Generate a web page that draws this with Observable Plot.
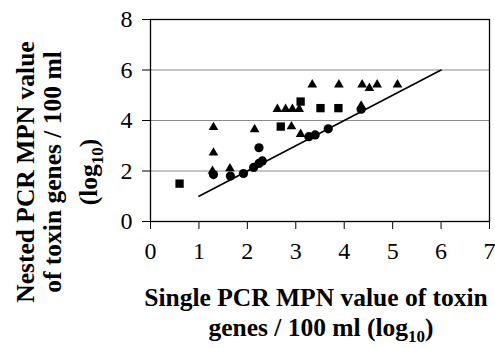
<!DOCTYPE html>
<html><head><meta charset="utf-8">
<script src="https://cdn.jsdelivr.net/npm/d3@7"></script>
<script src="https://cdn.jsdelivr.net/npm/@observablehq/plot@0.6"></script>
<style>body{margin:0;background:#fff} svg{display:block}</style>
</head><body><div id="chart"></div>
<script>
const xTicks = [0,1,2,3,4,5,6,7];
const yTicks = [0,2,4,6,8];
const gridValues = [2,4,6];

const circleX = [1.30,1.65,1.92,2.13,2.24,2.31,2.24,3.27,3.40,3.67,4.35];
const circleY = [1.86,1.80,1.90,2.14,2.30,2.40,2.92,3.36,3.43,3.67,4.45];

const triangleX = [1.30,1.30,1.28,1.64,2.15,2.62,2.79,2.93,3.07,2.91,3.34,3.89,4.37,4.52,4.68,5.10,3.10,4.35];
const triangleY = [3.73,2.72,2.00,2.10,3.65,4.45,4.45,4.45,4.45,3.76,5.42,5.42,5.42,5.28,5.42,5.42,3.46,4.58];

const squareX = [0.60,2.69,3.10,3.51,3.88];
const squareY = [1.50,3.76,4.75,4.49,4.49];

const fitX = [1,6];
const fitY = [1,6];

const xTitle = ["Single PCR MPN value of toxin", "genes / 100 ml (log"];
const yTitle = ["Nested PCR MPN value", "of toxin genes / 100 ml", "(log"];
const subscript = "10";

const toRows = (xs, ys) => xs.map((x, i) => ({x, y: ys[i]}));
const circles = toRows(circleX, circleY);
const triangles = toRows(triangleX, triangleY);
const squares = toRows(squareX, squareY);
const fit = toRows(fitX, fitY);

const plot = Plot.plot({
  width: 495, height: 348,
  marginLeft: 150, marginRight: 6, marginTop: 19, marginBottom: 127,
  style: {fontFamily: "Liberation Serif", fontSize: "24px", color: "#000", background: "#fff"},
  x: {domain: [0, 7]},
  y: {domain: [0, 8]},
  marks: [
    Plot.gridY(gridValues, {stroke: "#8a8a8a", strokeOpacity: 1, strokeWidth: 1.2}),
    Plot.frame({stroke: "#000", strokeWidth: 1.3}),
    Plot.axisX(xTicks, {tickSize: 8, tickPadding: 12, fontSize: 24, label: null, tickFormat: d => d}),
    Plot.axisY(yTicks, {tickSize: 8, tickPadding: 10, fontSize: 24, label: null, tickFormat: d => d}),
    Plot.line(fit, {x: "x", y: "y", stroke: "#000", strokeWidth: 1.6}),
    Plot.dot(squares, {x: "x", y: "y", symbol: "square", r: 4.7, fill: "#000"}),
    Plot.dot(triangles, {x: "x", y: "y", symbol: "triangle", r: 3.6, fill: "#000"}),
    Plot.dot(circles, {x: "x", y: "y", symbol: "circle", r: 4.6, fill: "#000"})
  ]
});
document.getElementById("chart").appendChild(plot);

const svg = d3.select(plot);
const tfont = "Liberation Serif";
// x title
const xt1 = svg.append("text").attr("x", 316).attr("y", 306).attr("text-anchor", "middle")
  .attr("font-family", tfont).attr("font-weight", "bold").attr("font-size", 25.5).attr("fill", "#000")
  .text(xTitle[0]);
const xt2 = svg.append("text").attr("x", 321).attr("y", 336).attr("text-anchor", "middle")
  .attr("font-family", tfont).attr("font-weight", "bold").attr("font-size", 25.5).attr("fill", "#000");
xt2.append("tspan").text(xTitle[1]);
xt2.append("tspan").attr("dy", 6).attr("font-size", 17).text(subscript);
xt2.append("tspan").attr("dy", -6).text(")");

// y title
const yBase = [34, 61, 97];
yTitle.forEach((line, i) => {
  const t = svg.append("text")
    .attr("transform", `translate(${yBase[i]},172) rotate(-90)`)
    .attr("text-anchor", "middle")
    .attr("font-family", tfont).attr("font-weight", "bold").attr("font-size", 25.5).attr("fill", "#000");
  t.append("tspan").text(line);
  if (i === 2) {
    t.append("tspan").attr("dy", 6).attr("font-size", 17).text(subscript);
    t.append("tspan").attr("dy", -6).text(")");
  }
});
</script></body></html>
